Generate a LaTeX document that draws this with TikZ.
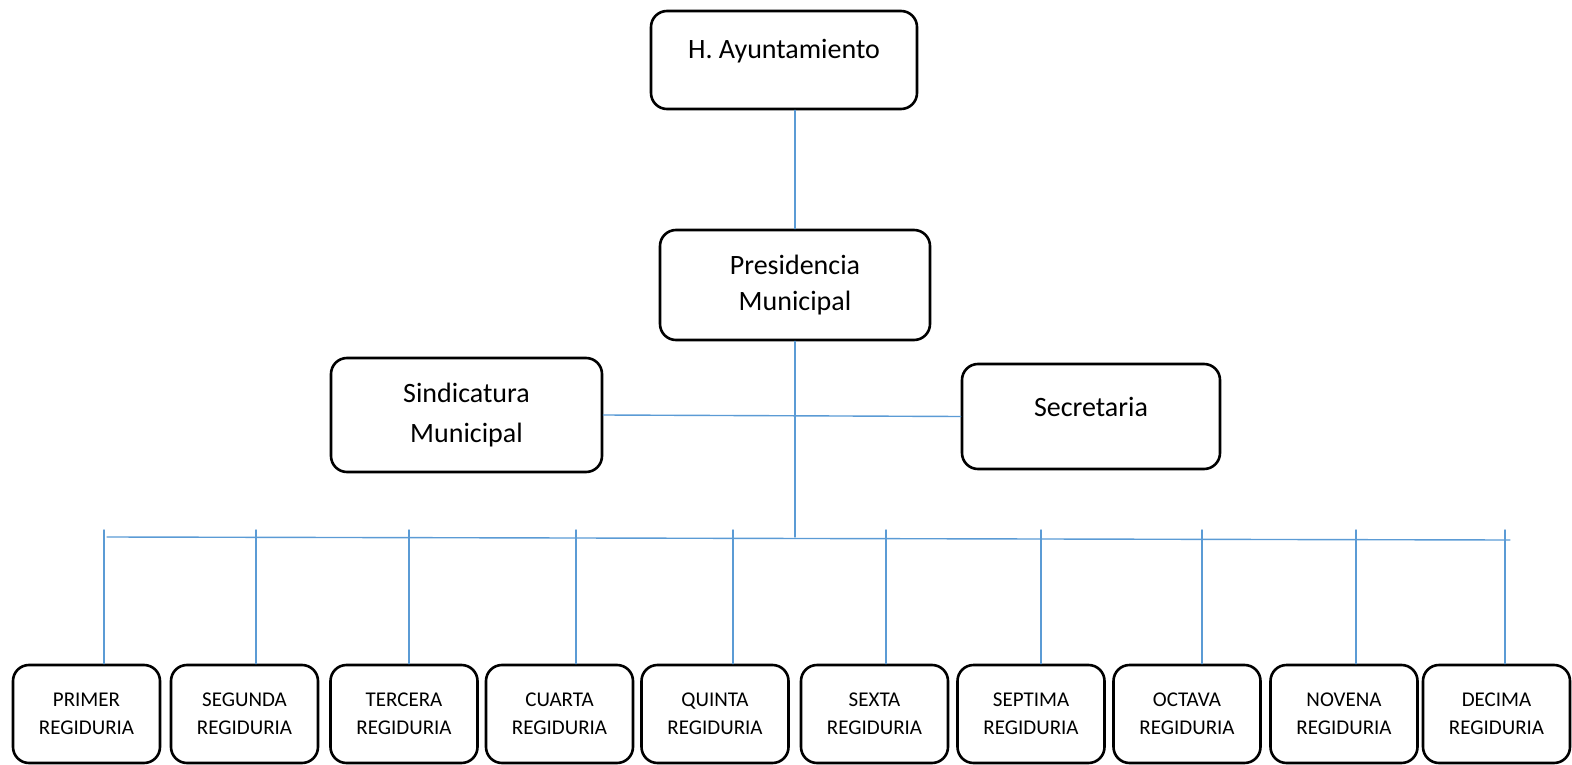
\documentclass[tikz,border=0pt]{standalone}
\usepackage{fontspec}
\setmainfont{Carlito}
\definecolor{azul}{RGB}{91,155,213}
\begin{document}
\begin{tikzpicture}[x=1pt,y=-1pt,line join=round,line cap=round,font=\fontsize{28}{36}\selectfont]
				\tikzset{caja/.style={draw,line width=2.6pt,rounded corners=16pt,align=center,inner sep=0pt},
						linea/.style={draw=azul,line width=1.4pt},
						reg/.style={caja,minimum width=147,minimum height=98,font=\fontsize{21}{28}\selectfont}
				}
				\useasboundingbox (0,0) rectangle (1572,765);
				\node[caja,minimum width=266,minimum height=98,text height=20pt,text depth=22pt] (ayto) at (784,60) {H. Ayuntamiento};
				\node[caja,minimum width=270,minimum height=110] (pres) at (795,285) {Presidencia\\Municipal};
				\node[caja,minimum width=271,minimum height=114] (sind) at (466.5,415) {Sindicatura\\[4pt]Municipal};
				\node[caja,minimum width=258,minimum height=105,text height=20pt,text depth=21pt] (secr) at (1091,416.5) {Secretaria};
				\draw[linea] (ayto.south -| pres.north)--(pres.north);
				\draw[linea] (sind.east)--(secr.west);
				\path (107,537)coordinate (busL) (1510,540)coordinate (busR);
				\draw[linea] (busL)--(busR);
				\draw[linea] (pres.south)--(pres.south |- busL);
				\foreach \i/\x/\d/\nombre in {1/86.5/104/PRIMER,2/244.5/256/SEGUNDA,3/404/409/TERCERA,4/559.5/576/CUARTA,5/715/733/QUINTA,6/874.5/886/SEXTA,7/1031/1041/SEPTIMA,8/1187/1202/OCTAVA,9/1344/1356/NOVENA,10/1496.5/1505/DECIMA}{
					\node[reg] (r\i) at (\x,714) {\nombre\\REGIDURIA};
					\path (\d,530)coordinate (t\i);
					\draw[linea] (t\i)--(t\i |- r\i.north);
				}
			\end{tikzpicture}
\end{document}
